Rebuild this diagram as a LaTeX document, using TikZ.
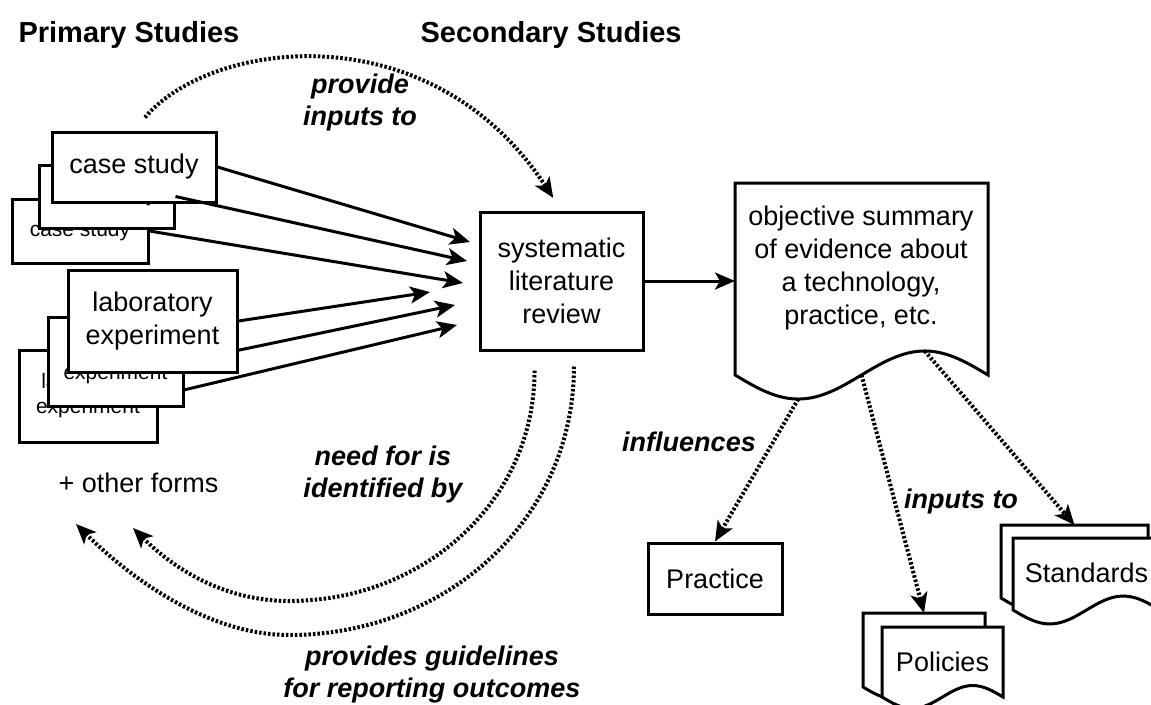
\documentclass[tikz,border=0pt]{standalone}
\usepackage{fontspec}
\setmainfont{Liberation Sans}
\usetikzlibrary{arrows.meta}

% page with a wavy lower edge: name, left, top, right, bottom of the sides
\newcommand{\docpage}[5]{%
  \pgfmathsetmacro{\dpqa}{#2+0.25*(#4-#2)}
  \pgfmathsetmacro{\dpqb}{#2+0.5*(#4-#2)}
  \pgfmathsetmacro{\dpqc}{#2+0.75*(#4-#2)}
  \pgfmathsetmacro{\dplo}{#5+0.095*(#4-#2)}
  \pgfmathsetmacro{\dphi}{#5-0.095*(#4-#2)}
  \draw[docshape] (#2,#5) -- (#2,#3) -- (#4,#3) -- (#4,#5)
    sin (\dpqc,\dphi) cos (\dpqb,#5) sin (\dpqa,\dplo) cos (#2,#5) -- cycle;
  \coordinate (#1-top)    at (\dpqb,#3);
  \coordinate (#1-west)   at (#2,{(#3+#5)/2});
  \coordinate (#1-trough) at (\dpqa,\dplo);
  \coordinate (#1-mid)    at (\dpqb,#5);
  \coordinate (#1-peak)   at (\dpqc,\dphi);
}

\begin{document}
\begin{tikzpicture}[x=1pt, y=-1pt,
    studybox/.style={draw, fill=white, line width=3pt, inner sep=0pt, align=center,
                     font=\fontsize{27}{33}\selectfont},
    backbox/.style={studybox, font=\fontsize{21}{25}\selectfont},
    docshape/.style={draw, fill=white, line width=3pt},
    doctext/.style={align=center, inner sep=0pt, font=\fontsize{27}{33}\selectfont},
    flow/.style={line width=3pt, -{Stealth[length=20pt, width=17pt, inset=5pt]}},
    dotflow/.style={flow, line width=4pt, dash pattern=on 2.5pt off 2pt},
    relation/.style={align=center, font=\fontsize{27}{32}\selectfont\bfseries\itshape},
    heading/.style={anchor=base west, font=\fontsize{29}{35}\selectfont\bfseries}]

  \path[use as bounding box, fill=white] (0,0) rectangle (1151,704);

  \node[heading] (H1) at ( 15,42) {Primary Studies};
  \node[heading] (H2) at (417,42) {Secondary Studies};

  % case studies
  \node[backbox,  minimum width=136pt, minimum height=64pt](C3) at ( 80,231)   {case study};
  \node[backbox,  minimum width=135pt, minimum height=63pt](C2) at (106.5,196.5) {case study};
  \node[studybox, minimum width=164pt, minimum height=70pt](C1) at (134,167)   {case study};

  % laboratory experiments
  \coordinate (T4) at (430,292);
  \coordinate (T5) at (455,305);
  \coordinate (T6) at (457,325);
  \node[backbox,  minimum width=138pt, minimum height=92pt ](L3) at ( 88,396) {laboratory\\experiment};
  \draw[flow] (L3.east) -- (T6);
  \node[backbox,  minimum width=135pt, minimum height=89pt ](L2) at (115.5,361.5) {laboratory\\experiment};
  \draw[flow] (L2.east) -- (T5);
  \node[studybox, minimum width=169pt, minimum height=102pt](L1) at (152.5,321) {laboratory\\experiment};
  \draw[flow] (L1.east) -- (T4);

  \node[font=\fontsize{27}{33}\selectfont] (O) at (138.5,483) {+ other forms};

  \node[studybox, minimum width=163pt, minimum height=138pt](SLR) at (561.5,281)
    {systematic\\literature\\review};

  \coordinate (T1) at (470,242);
  \coordinate (T2) at (467,261);
  \coordinate (T3) at (463,283);
  \draw[flow] (C1.east) -- (T1);
  \draw[flow] (C2.east) -- (T2);
  \draw[flow] (C3.east) -- (T3);

  % summary and what it feeds
  \docpage{Sdoc}{735}{183}{988}{375}
  \node[doctext] (S) at (861,268)
    {objective summary\\of evidence about\\a technology,\\practice, etc.};
  \draw[flow] (SLR.east) -- (SLR.east -| Sdoc-west);

  \node[studybox, minimum width=134pt, minimum height=71pt](P) at (715,578.5) {Practice};

  \docpage{Po2}{863}{613}{985}{687}
  \docpage{Po1}{882}{627}{1003}{697}
  \node[doctext] (Po) at (942.5,662) {Policies};

  \docpage{St2}{1001}{525}{1148}{598}
  \docpage{St1}{1013}{538}{1160}{610}
  \node[doctext] (St) at (1086.5,573) {Standards};

  \draw[dotflow] (Sdoc-trough) -- (P.north);
  \draw[dotflow] (Sdoc-mid) -- (Po2-top);
  \draw[dotflow] (Sdoc-peak) -- (St2-top);

  \node[relation] (R4) at (689,442) {influences};
  \node[relation] (R5) at (961,502) {inputs to};

  % feedback between primary and secondary studies
  \coordinate (ret1) at (133,528);
  \coordinate (ret2) at ( 76,524);
  \draw[dotflow, shorten <=17pt, shorten >=15pt] (C1.north) .. controls (210,40) and (430,10) .. (SLR.north);
  \draw[dotflow, shorten <=19pt] (SLR.-111) .. controls (535,500) and (425,601) .. (289,601)
    .. controls (229,601) and (178,573) .. (ret1);
  \draw[dotflow, shorten <=15pt] (SLR.-80) .. controls (574,520) and (446,635) .. (289,635)
    .. controls (209,635) and (131,579) .. (ret2);

  \node[relation] (R1) at (360,103) {provide\\inputs to};
  \node[relation] (R2) at (383,475) {need for is\\identified by};
  \node[relation] (R3) at (432,675) {provides guidelines\\for reporting outcomes};
\end{tikzpicture}
\end{document}
